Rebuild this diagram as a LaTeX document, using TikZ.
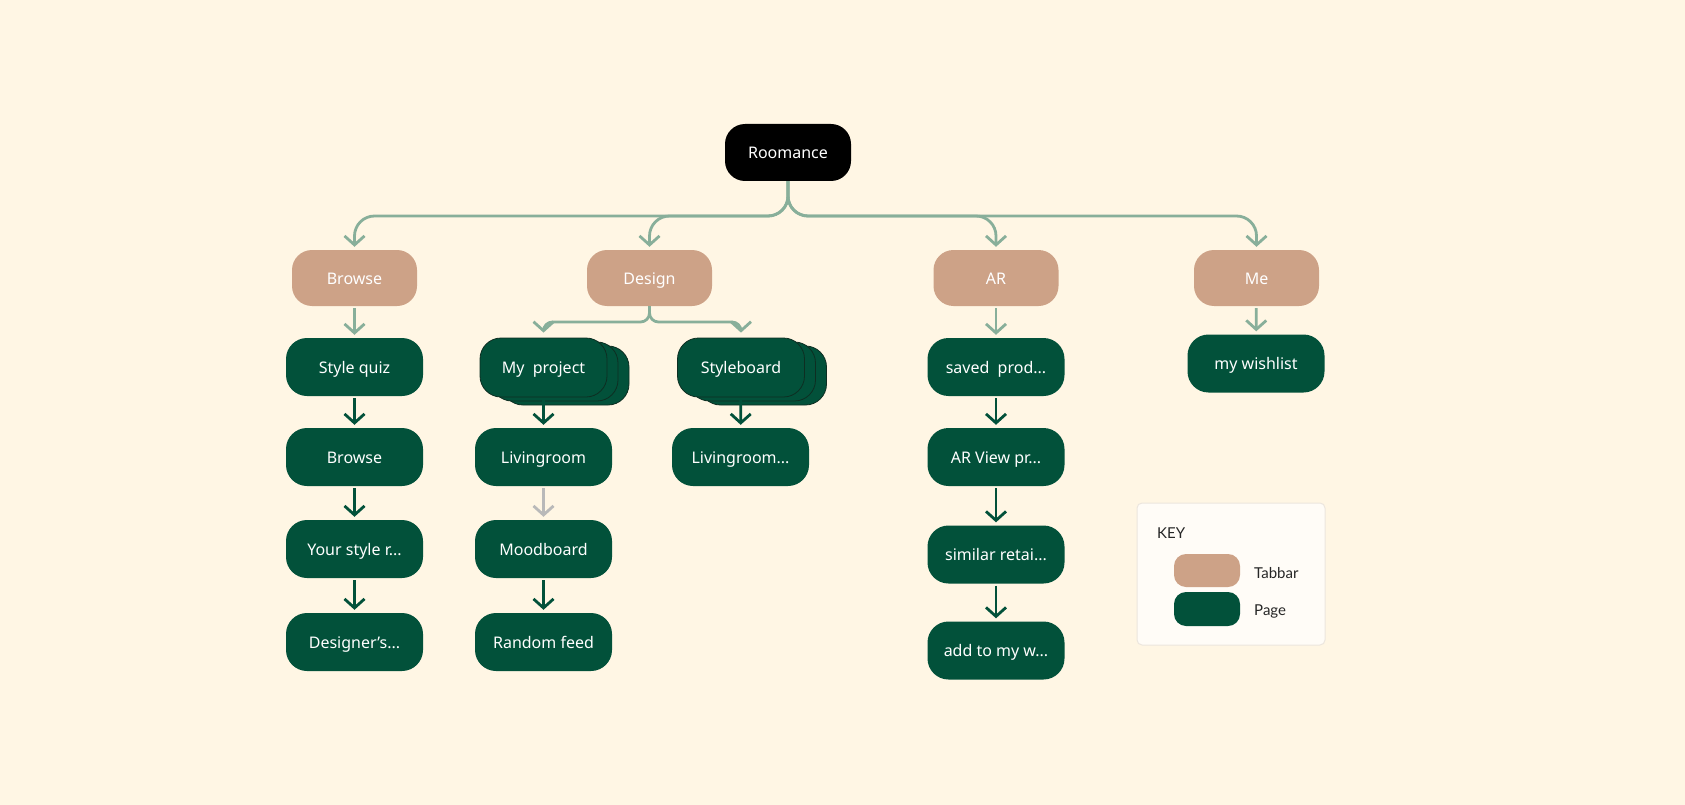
\documentclass[tikz,border=0pt]{standalone}
\usepackage{fontspec}
\setmainfont{Noto Sans}
\newfontfamily\keyfont{Lato}
\usetikzlibrary{arrows.meta,shadows}

\definecolor{cream}{HTML}{FFF6E4}
\definecolor{tabtan}{HTML}{CDA287}
\definecolor{pagegreen}{HTML}{02513A}
\definecolor{sage}{HTML}{88AF9A}
\definecolor{mute}{HTML}{B9B9B9}
\definecolor{rim}{HTML}{0E2E22}
\definecolor{keyfill}{HTML}{FFFCF7}
\definecolor{keyrim}{HTML}{ECE6DE}

\tikzset{
  >={Straight Barb[length=9pt,width=20pt]},
  label font/.style={font=\fontsize{16}{18}\selectfont, text height=12.6pt, text depth=0pt},
  tab/.style={fill=tabtan, text=white, rounded corners=20pt, minimum width=125pt, minimum height=56pt, label font},
  page/.style={fill=pagegreen, text=white, rounded corners=21pt, minimum width=137pt, minimum height=58pt, label font},
  stack/.style={page, minimum width=127pt, minimum height=59pt, draw=rim, line width=0.8pt, double copy shadow={shadow xshift=11pt, shadow yshift=-4pt, fill=pagegreen, draw=rim, line width=0.8pt}},
  branch/.style={draw=sage, line width=2.8pt, rounded corners=20pt, ->, shorten >=3pt},
  flow/.style={draw=pagegreen, line width=2.8pt, ->, shorten <=2pt, shorten >=3pt},
  soft/.style={flow, draw=mute},
  tabflow/.style={flow, draw=sage}
}

\begin{document}
\begin{tikzpicture}[x=1pt, y=-1pt]
  \fill[cream] (0,0) rectangle (1685,805);
  \useasboundingbox (0,0) rectangle (1685,805);

  % top
  \node[fill=black, text=white, rounded corners=20pt, minimum width=126pt, minimum height=57pt, label font] (root) at (788,152.5) {Roomance};

  % tab bar
  \node[tab] (tBrowse) at (354.5,278) {Browse};
  \node[tab] (tDesign) at (649.5,278) {Design};
  \node[tab] (tAR) at (996,278) {AR};
  \node[tab] (tMe) at (1256.5,278) {Me};

  \coordinate (hub) at (788,216);
  \draw[branch] (root.south) -- (hub) -| (tBrowse.north);
  \draw[branch] (root.south) -- (hub) -| (tDesign.north);
  \draw[branch] (root.south) -- (hub) -| (tAR.north);
  \draw[branch] (root.south) -- (hub) -| (tMe.north);

  % browse
  \node[page] (pQuiz) at (354.5,367) {Style quiz};
  \node[page] (pBrowse) at (354.5,457) {Browse};
  \node[page] (pStyle) at (354.5,549) {Your style r...};
  \node[page] (pDesigner) at (354.5,642) {Designer’s...};
  \draw[tabflow] (tBrowse) -- (pQuiz);
  \draw[flow] (pQuiz) -- (pBrowse);
  \draw[flow] (pBrowse) -- (pStyle);
  \draw[flow] (pStyle) -- (pDesigner);

  % design
  \node[stack] (pProject) at (543.5,367.5) {My\ \ project};
  \node[stack] (pBoard) at (741,367.5) {Styleboard};
  \node[page] (pLiving) at (543.5,457) {Livingroom};
  \node[page] (pLivingB) at (740.5,457) {Livingroom...};
  \node[page] (pMood) at (543.5,549) {Moodboard};
  \node[page] (pFeed) at (543.5,642) {Random feed};
  \coordinate (dhub) at (649.5,322);
  \draw[branch, rounded corners=9pt, shorten >=5pt] (tDesign.south) -- (dhub) -| (pProject.north);
  \draw[branch, rounded corners=9pt, shorten >=5pt] (tDesign.south) -- (dhub) -| (pBoard.north);
  \draw[flow] (pProject) -- (pLiving);
  \draw[flow] (pBoard) -- (pLivingB);
  \draw[soft] (pLiving) -- (pMood);
  \draw[flow] (pMood) -- (pFeed);

  % AR
  \node[page] (pSaved) at (996,367) {saved\ \ prod...};
  \node[page] (pView) at (996,457) {AR View pr...};
  \node[page] (pSimilar) at (996,554.5) {similar retai...};
  \node[page] (pAdd) at (996,650.5) {add to my w...};
  \draw[tabflow] (tAR) -- (pSaved);
  \draw[flow] (pSaved) -- (pView);
  \draw[flow] (pView) -- (pSimilar);
  \draw[flow] (pSimilar) -- (pAdd);

  % me
  \node[page] (pWish) at (1256,363.5) {my wishlist};
  \draw[tabflow] (tMe) -- (pWish);

  % key
  \node[fill=keyfill, draw=keyrim, line width=1pt, rounded corners=5pt, minimum width=188pt, minimum height=142pt] (key) at (1231,574) {};
  \node[anchor=west, inner sep=0pt, font=\keyfont\fontsize{15}{18}\selectfont, text=black!85] (kTitle) at (1157,533) {KEY};
  \node[fill=tabtan, rounded corners=12pt, minimum width=66pt, minimum height=33pt] (kTab) at (1207,570.5) {};
  \node[fill=pagegreen, rounded corners=12pt, minimum width=66pt, minimum height=34pt] (kPage) at (1207,609) {};
  \node[anchor=west, inner sep=0pt, font=\keyfont\fontsize{15}{18}\selectfont, text=black!85] (kTabTxt) at (1254,573) {Tabbar};
  \node[anchor=west, inner sep=0pt, font=\keyfont\fontsize{15}{18}\selectfont, text=black!85] (kPageTxt) at (1254,611) {Page};
\end{tikzpicture}
\end{document}
